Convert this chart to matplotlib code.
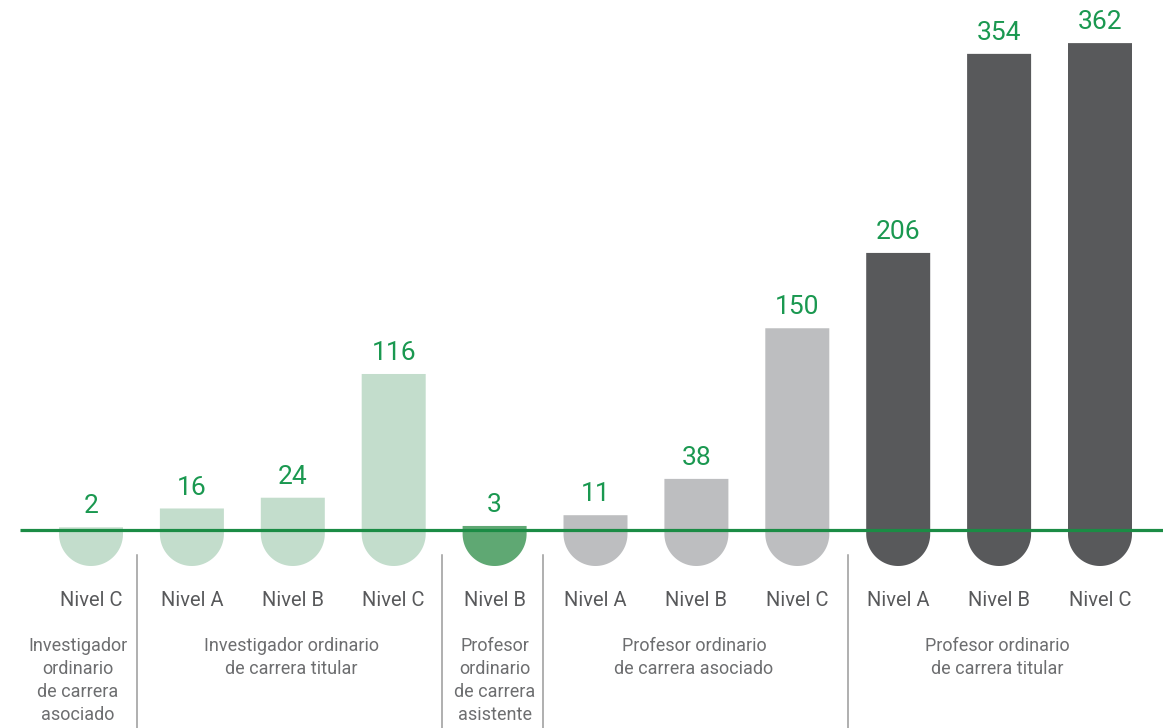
import numpy as np
import matplotlib.pyplot as plt

plt.rcParams['font.family'] = ['Roboto', 'DejaVu Sans']

niveles = ['Nivel C', 'Nivel A', 'Nivel B', 'Nivel C', 'Nivel B',
           'Nivel A', 'Nivel B', 'Nivel C', 'Nivel A', 'Nivel B', 'Nivel C']
valores = [2, 16, 24, 116, 3, 11, 38, 150, 206, 354, 362]
grupo = [0, 1, 1, 1, 2, 3, 3, 3, 4, 4, 4]
grupos = ['Investigador\nordinario\nde carrera\nasociado',
          'Investigador ordinario\nde carrera titular',
          'Profesor\nordinario\nde carrera\nasistente',
          'Profesor ordinario\nde carrera asociado',
          'Profesor ordinario\nde carrera titular']
colores = ['#c3ddcc', '#c3ddcc', '#5fa873', '#bdbec0', '#58595b']

# pixel layout helpers
W, H = 1163, 728
X0, DX = 91, 100.9          # first bar centre, spacing (px)
BASE, SC = 530, 1.345       # baseline (px from top), px per unit


def py(p):
    return (BASE - p) / SC


def px(p):
    return (p - X0) / DX


fig = plt.figure(figsize=(W / 100, H / 100), dpi=100)
ax = fig.add_axes([0, 0, 1, 1])
ax.set_xlim(px(0), px(W))
ax.set_ylim(py(H), py(0))
ax.axis('off')

bw = 64 / DX
rx = bw / 2
ry = 32 / SC
st = 4 / SC
t = np.linspace(0, np.pi, 60)
for i, v in enumerate(valores):
    c = colores[grupo[i]]
    xs = [i - rx, i + rx, i + rx] + list(i + rx * np.cos(t)) + [i - rx]
    ys = [v, v, -st] + list(-st - ry * np.sin(t)) + [v]
    ax.fill(xs, ys, color=c, lw=0, zorder=2)
    ax.annotate(str(v), (i, v), xytext=(0, 15), textcoords='offset points',
                ha='center', va='center', fontsize=19, color='#1a9850')
    ax.text(i, py(600), niveles[i], ha='center', va='center',
            fontsize=14.5, color='#58595b')

ax.plot([px(20), px(W)], [0, 0], color='#1b8c45', lw=2.3,
        zorder=3, solid_capstyle='butt')

for xs in [137, 442, 543, 848]:
    ax.plot([px(xs), px(xs)], [py(555), py(H)], color='#9a9a9a', lw=1.1)

centros = [78, 291, 495, 694, 997]
for g, texto in enumerate(grupos):
    for k, linea in enumerate(texto.split('\n')):
        ax.text(px(centros[g]), py(646 + 23 * k), linea, ha='center',
                va='center', fontsize=13, color='#6d6e70')

fig.savefig('out.png', dpi=100)
